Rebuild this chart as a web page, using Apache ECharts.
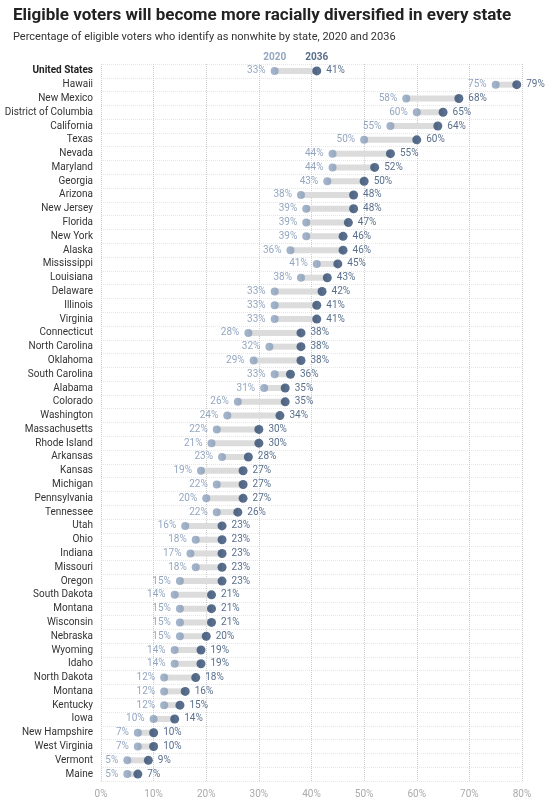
<!DOCTYPE html>
<html>
<head>
<meta charset="utf-8">
<script src="https://cdn.jsdelivr.net/npm/echarts@6/dist/echarts.min.js"></script>
<style>
  html, body { margin: 0; padding: 0; background: #fff; }
  #chart { width: 560px; height: 809px; }
</style>
</head>
<body>
<div id="chart"></div>
<script>
const states = ['United States', 'Hawaii', 'New Mexico', 'District of Columbia', 'California', 'Texas', 'Nevada', 'Maryland',
  'Georgia', 'Arizona', 'New Jersey', 'Florida', 'New York', 'Alaska', 'Mississippi', 'Louisiana', 'Delaware', 'Illinois',
  'Virginia', 'Connecticut', 'North Carolina', 'Oklahoma', 'South Carolina', 'Alabama', 'Colorado', 'Washington',
  'Massachusetts', 'Rhode Island', 'Arkansas', 'Kansas', 'Michigan', 'Pennsylvania', 'Tennessee', 'Utah', 'Ohio', 'Indiana',
  'Missouri', 'Oregon', 'South Dakota', 'Montana', 'Wisconsin', 'Nebraska', 'Wyoming', 'Idaho', 'North Dakota', 'Montana',
  'Kentucky', 'Iowa', 'New Hampshire', 'West Virginia', 'Vermont', 'Maine'];
const y2020 = [33, 75, 58, 60, 55, 50, 44, 44, 43, 38, 39, 39, 39, 36, 41, 38, 33, 33, 33, 28, 32, 29, 33, 31, 26, 24,
  22, 21, 23, 19, 22, 20, 22, 16, 18, 17, 18, 15, 14, 15, 15, 15, 14, 14, 12, 12, 12, 10, 7, 7, 5, 5];
const y2036 = [41, 79, 68, 65, 64, 60, 55, 52, 50, 48, 48, 47, 46, 46, 45, 43, 42, 41, 41, 38, 38, 38, 36, 35, 35, 34,
  30, 30, 28, 27, 27, 27, 26, 23, 23, 23, 23, 23, 21, 21, 21, 20, 19, 19, 18, 16, 15, 14, 10, 10, 9, 7];
const xTicks = [0, 10, 20, 30, 40, 50, 60, 70, 80];

const light = '#8a9fbb', dark = '#2e4a6f', lightText = '#7890b0';
const chart = echarts.init(document.getElementById('chart'));

chart.setOption({
  animation: false,
  textStyle: { fontFamily: 'Roboto, sans-serif' },
  title: {
    text: 'Eligible voters will become more racially diversified in every state',
    subtext: 'Percentage of eligible voters who identify as nonwhite by state, 2020 and 2036',
    left: 8, top: 2, itemGap: 8,
    textStyle: { fontSize: 17, fontWeight: 'bold', color: '#222' },
    subtextStyle: { fontSize: 11, color: '#333' }
  },
  grid: { left: 101, right: 38, top: 64, bottom: 28 },
  xAxis: {
    type: 'value', min: 0, max: 80, interval: 10,
    axisLabel: { formatter: '{value}%', color: '#aaa', fontSize: 10 },
    axisLine: { show: false }, axisTick: { show: false },
    splitLine: { lineStyle: { type: 'dotted', color: '#ccc' } }
  },
  yAxis: {
    type: 'category', data: states, inverse: true,
    axisLine: { show: false }, axisTick: { show: false },
    axisLabel: {
      fontSize: 10, color: '#333', margin: 8,
      formatter: (v, i) => i === 0 ? '{b|' + v + '}' : v,
      rich: { b: { fontWeight: 'bold', fontSize: 10, color: '#222' } }
    },
    splitLine: { show: true, interval: 0, lineStyle: { type: 'dotted', color: '#e6e6e6' } }
  },
  series: [
    {
      type: 'custom',
      data: states.map((s, i) => [i, y2020[i], y2036[i]]),
      renderItem: (params, api) => {
        const a = api.coord([api.value(1), api.value(0)]);
        const b = api.coord([api.value(2), api.value(0)]);
        return {
          type: 'line',
          shape: { x1: a[0], y1: a[1], x2: b[0], y2: b[1] },
          style: { stroke: '#dcdcdc', lineWidth: 6 }
        };
      },
      z: 1
    },
    {
      name: '2020', type: 'scatter', symbolSize: 8,
      itemStyle: { color: light },
      data: y2020.map((v, i) => [v, i]),
      label: { show: true, position: 'left', distance: 5, fontSize: 10, color: lightText, formatter: p => p.value[0] + '%' },
      z: 3
    },
    {
      name: '2036', type: 'scatter', symbolSize: 9,
      itemStyle: { color: dark },
      data: y2036.map((v, i) => [v, i]),
      label: { show: true, position: 'right', distance: 5, fontSize: 10, color: dark, formatter: p => p.value[0] + '%' },
      z: 4
    },
    {
      type: 'scatter', symbolSize: 0, silent: true,
      data: [[y2020[0], 0, '2020', lightText], [y2036[0], 0, '2036', dark]],
      label: {
        show: true, position: 'top', distance: 8, fontSize: 10, fontWeight: 'bold',
        formatter: p => p.value[2],
        color: p => p.value[3]
      }
    }
  ]
});
// label color per point
chart.setOption({
  series: [{}, {}, {}, {
    data: [
      { value: [y2020[0], 0, '2020'], label: { color: lightText } },
      { value: [y2036[0], 0, '2036'], label: { color: dark } }
    ]
  }]
});
</script>
</body>
</html>
